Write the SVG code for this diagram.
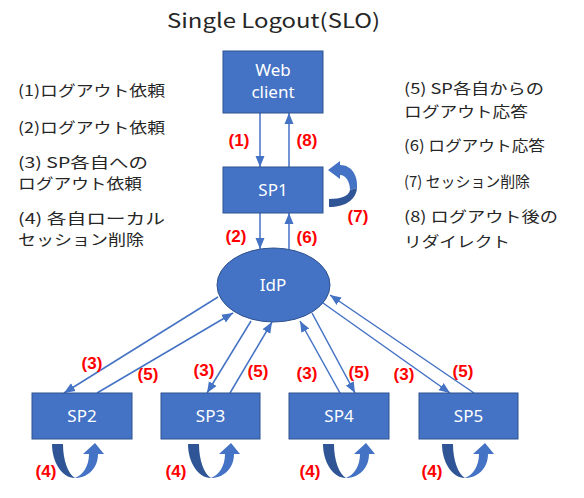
<svg xmlns="http://www.w3.org/2000/svg" xmlns:xlink="http://www.w3.org/1999/xlink" width="584" height="498" viewBox="0 0 584 498">
<style>
.box{fill:#4472C4;stroke:#2F528F;stroke-width:1}
.nt{font-family:"Noto Sans","Noto Sans CJK JP",sans-serif;font-size:17px;fill:#FFFFFF;text-anchor:middle}
.ln{stroke:#4472C4;stroke-width:1.5;fill:none;marker-end:url(#ah)}
.rl{font-family:"Liberation Sans","Noto Sans CJK JP",sans-serif;font-size:17px;font-weight:bold;fill:#FF0000;text-anchor:middle}
.desc{font-family:"Noto Sans CJK JP",sans-serif;font-size:15px;fill:#262626}
.title{font-family:"Noto Sans CJK JP",sans-serif;font-size:20px;fill:#262626;text-anchor:middle}
.dk{fill:#2F5597}
.lt{fill:#4472C4}
</style>
<defs>
<marker id="ah" markerUnits="userSpaceOnUse" markerWidth="12" markerHeight="12" viewBox="0 0 12 12" refX="11" refY="6" orient="auto">
<path d="M0,1.5 L11,6 L0,10.5 Z" fill="#4472C4"/>
</marker>
<g id="uloop">
<path class="dk" d="M0,0 C0,18 10,34 23,34 C16,30 11,16 11,0 Z"/>
<path class="lt" d="M23,34 C36,34 46,24 46,10 L52,10 L43,-1 L31,10 L37,10 C37,22 31,31 23,34 Z"/>
</g>
</defs>
<rect width="584" height="498" fill="#FFFFFF"/>
<text class="title" x="273.5" y="28" textLength="213" lengthAdjust="spacingAndGlyphs">Single Logout(SLO)</text>

<g id="legend-left">
<text class="desc" x="18" y="96" textLength="147" lengthAdjust="spacingAndGlyphs">(1)ログアウト依頼</text>
<text class="desc" x="18" y="133" textLength="147" lengthAdjust="spacingAndGlyphs">(2)ログアウト依頼</text>
<text class="desc" x="18" y="168" textLength="130" lengthAdjust="spacingAndGlyphs">(3) SP各自への</text>
<text class="desc" x="18" y="189" textLength="124" lengthAdjust="spacingAndGlyphs">ログアウト依頼</text>
<text class="desc" x="18" y="224" textLength="147" lengthAdjust="spacingAndGlyphs">(4) 各自ローカル</text>
<text class="desc" x="18" y="245" textLength="126" lengthAdjust="spacingAndGlyphs">セッション削除</text>
</g>
<g id="legend-right">
<text class="desc" x="404" y="94" textLength="140" lengthAdjust="spacingAndGlyphs">(5) SP各自からの</text>
<text class="desc" x="404" y="117" textLength="124" lengthAdjust="spacingAndGlyphs">ログアウト応答</text>
<text class="desc" x="404" y="151" textLength="141" lengthAdjust="spacingAndGlyphs">(6) ログアウト応答</text>
<text class="desc" x="404" y="187" textLength="126" lengthAdjust="spacingAndGlyphs">(7) セッション削除</text>
<text class="desc" x="404" y="222" textLength="154" lengthAdjust="spacingAndGlyphs">(8) ログアウト後の</text>
<text class="desc" x="404" y="247" textLength="106" lengthAdjust="spacingAndGlyphs">リダイレクト</text>
</g>

<g id="connectors">
<path class="ln" d="M260,113 L260,167"/>
<path class="ln" d="M289,167 L289,113"/>
<path class="ln" d="M260,213 L260,249"/>
<path class="ln" d="M289,249 L289,213"/>
<path class="ln" d="M218,297 L64,393"/>
<path class="ln" d="M97,393 L233,313"/>
<path class="ln" d="M251,321 L207,393"/>
<path class="ln" d="M230,393 L272,322"/>
<path class="ln" d="M340,393 L300,321"/>
<path class="ln" d="M312,313 L355,393"/>
<path class="ln" d="M323,303 L450,393"/>
<path class="ln" d="M474,393 L330,295"/>
<g id="loop-sp1">
<path class="lt" d="M340,165 C352,165 358,176 357,188 L350,190 C350,182 346,175 340,175 L340,179 L328,170 L340,161 Z"/>
<path class="dk" d="M357,188 C356,200 345,207 329,207 L329,199 C341,199 349,196 350,190 Z"/>
</g>
<use xlink:href="#uloop" href="#uloop" x="52" y="444"/>
<use xlink:href="#uloop" href="#uloop" x="188" y="444"/>
<use xlink:href="#uloop" href="#uloop" x="323" y="444"/>
<use xlink:href="#uloop" href="#uloop" x="442" y="444"/>
</g>

<g id="labels">
<text class="rl" x="239" y="146">(1)</text>
<text class="rl" x="307" y="146">(8)</text>
<text class="rl" x="236" y="242">(2)</text>
<text class="rl" x="307" y="243">(6)</text>
<text class="rl" x="358" y="222">(7)</text>
<text class="rl" x="92" y="369">(3)</text>
<text class="rl" x="148" y="380">(5)</text>
<text class="rl" x="204" y="376">(3)</text>
<text class="rl" x="258" y="377">(5)</text>
<text class="rl" x="307" y="379">(3)</text>
<text class="rl" x="359" y="378">(5)</text>
<text class="rl" x="404" y="380">(3)</text>
<text class="rl" x="463" y="377">(5)</text>
<text class="rl" x="46" y="477">(4)</text>
<text class="rl" x="176" y="477">(4)</text>
<text class="rl" x="310" y="477">(4)</text>
<text class="rl" x="432" y="477">(4)</text>
</g>

<g id="web-client">
<rect class="box" x="223" y="51" width="100" height="62"/>
<text class="nt" x="273" y="76">Web</text>
<text class="nt" x="273" y="98">client</text>
</g>
<g id="sp1">
<rect class="box" x="223" y="167" width="100" height="46"/>
<text class="nt" x="273" y="196">SP1</text>
</g>
<g id="idp">
<ellipse class="box" cx="273.5" cy="285" rx="56.5" ry="37"/>
<text class="nt" x="273" y="291">IdP</text>
</g>
<g id="sp2">
<rect class="box" x="32" y="393" width="100" height="46"/>
<text class="nt" x="82" y="422">SP2</text>
</g>
<g id="sp3">
<rect class="box" x="161" y="393" width="99" height="46"/>
<text class="nt" x="210.5" y="422">SP3</text>
</g>
<g id="sp4">
<rect class="box" x="289" y="393" width="100" height="46"/>
<text class="nt" x="339" y="422">SP4</text>
</g>
<g id="sp5">
<rect class="box" x="419" y="393" width="99" height="46"/>
<text class="nt" x="468.5" y="422">SP5</text>
</g>
</svg>
